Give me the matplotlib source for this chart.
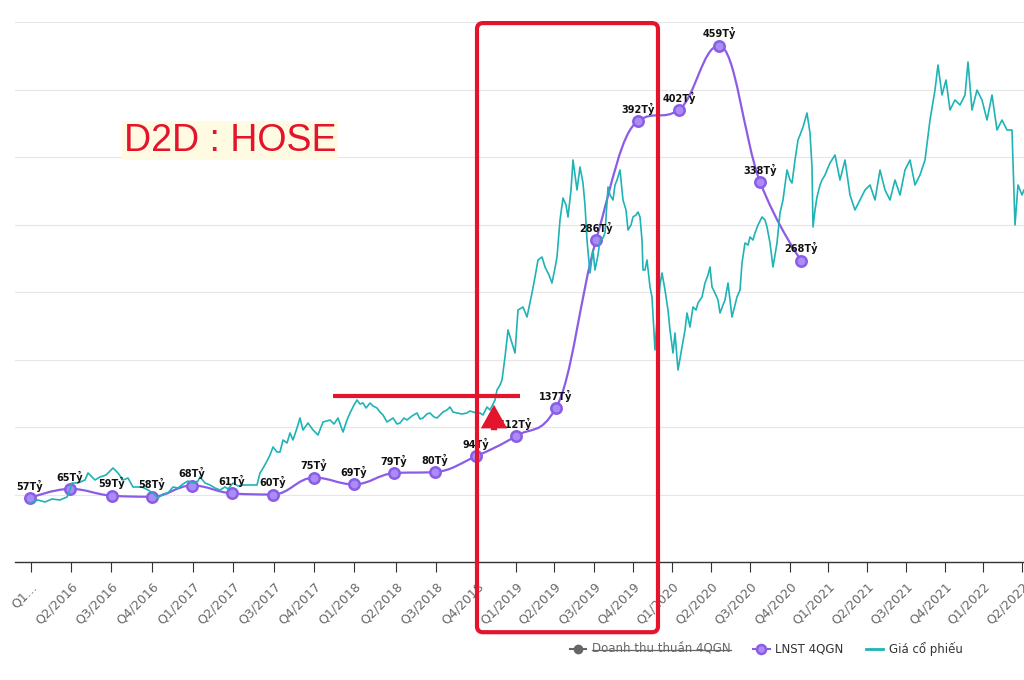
import matplotlib
matplotlib.use("Agg")
import matplotlib.pyplot as plt
from matplotlib.path import Path
from matplotlib.patches import PathPatch, FancyBboxPatch, FancyArrowPatch
from matplotlib.lines import Line2D
from matplotlib.transforms import IdentityTransform

# quarter ticks (trading-session index)
tick_pos = [0, 40, 80, 121, 162, 202, 243, 283, 323, 365, 405, 446, 485,
            523, 563, 602, 641, 680, 719, 759, 797, 836, 875, 914, 952, 991]
tick_labels = ["Q1…", "Q2/2016", "Q3/2016", "Q4/2016", "Q1/2017", "Q2/2017",
               "Q3/2017", "Q4/2017", "Q1/2018", "Q2/2018", "Q3/2018", "Q4/2018",
               "Q1/2019", "Q2/2019", "Q3/2019", "Q4/2019", "Q1/2020", "Q2/2020",
               "Q3/2020", "Q4/2020", "Q1/2021", "Q2/2021", "Q3/2021", "Q4/2021",
               "Q1/2022", "Q2/2022"]

# LNST 4QGN (ty dong)
profit_pos = [-1, 39, 80.5, 121, 161, 201, 242, 283, 323, 363, 404, 445, 485,
              525, 565, 607, 648, 688, 729, 770]
profit = [57, 65, 59, 58, 68, 61, 60, 75, 69, 79, 80, 94, 112, 137, 286, 392,
          402, 459, 338, 268]

# gia co phieu (nghin dong)
price_idx = [-1, 7, 14, 21, 29, 36, 39, 41, 47, 54, 57, 64, 69, 75, 82, 87, 92, 97,
             102, 111, 117, 122, 127, 132, 137, 142, 147, 152, 157, 162, 167, 169,
             174, 179, 184, 189, 194, 197, 202, 207, 212, 219, 226, 229, 231, 236,
             239, 242, 246, 249, 252, 256, 259, 262, 266, 269, 272, 277, 282, 287,
             292, 299, 303, 307, 312, 316, 319, 323, 326, 329, 332, 335, 339, 342,
             346, 349, 352, 356, 359, 362, 366, 369, 373, 376, 381, 386, 389, 392,
             396, 399, 403, 406, 409, 412, 416, 419, 422, 426, 431, 436, 439, 442,
             446, 449, 452, 456, 459, 462, 464, 466, 469, 471, 474, 477, 481, 484,
             487, 492, 496, 501, 504, 507, 511, 514, 518, 521, 524, 526, 529, 532,
             535, 537, 540, 542, 544, 546, 549, 552, 554, 556, 559, 562, 564, 567,
             569, 572, 574, 577, 579, 582, 584, 586, 589, 592, 595, 597, 600, 602,
             605, 607, 609, 611, 612, 614, 616, 619, 621, 624, 626, 629, 631, 634,
             637, 639, 642, 644, 647, 651, 654, 656, 659, 662, 665, 667, 671, 674,
             677, 679, 681, 684, 687, 689, 692, 694, 697, 699, 701, 704, 706, 709,
             711, 714, 717, 719, 722, 724, 727, 731, 734, 736, 739, 742, 744, 746,
             749, 752, 754, 756, 759, 761, 764, 767, 769, 772, 774, 776, 779, 781,
             782, 784, 786, 789, 791, 794, 796, 799, 804, 809, 814, 819, 824, 829,
             834, 839, 844, 849, 854, 859, 864, 869, 874, 879, 884, 889, 894, 899,
             904, 907, 911, 915, 919, 924, 929, 934, 937, 941, 946, 951, 956, 961,
             966, 971, 976, 981, 984, 987, 991, 993]
price = [11.8, 12.4, 12.0, 12.6, 12.4, 13.0, 14.4, 15.8, 15.8, 16.4, 17.8, 16.4, 17.0,
         17.4, 18.8, 17.8, 16.4, 16.8, 15.0, 15.0, 14.4, 13.8, 12.8, 13.6, 13.8, 15.0,
         14.8, 15.6, 16.2, 15.8, 16.2, 17.0, 15.8, 15.4, 14.8, 14.4, 15.0, 14.6, 15.8,
         15.2, 15.4, 15.4, 15.4, 17.8, 18.4, 20.2, 21.4, 23.0, 22.0, 22.0, 24.4, 23.8,
         25.8, 24.4, 26.8, 28.8, 26.4, 27.8, 26.4, 25.4, 28.0, 28.4, 27.6, 28.8, 26.0,
         28.4, 29.8, 31.4, 32.4, 31.6, 31.8, 30.8, 31.8, 31.2, 30.8, 30.0, 29.4, 28.0,
         28.4, 28.8, 27.6, 27.8, 28.8, 28.4, 29.2, 29.8, 28.6, 28.8, 29.6, 29.8, 29.0,
         28.8, 29.4, 30.0, 30.4, 31.0, 30.0, 29.8, 29.6, 29.8, 30.2, 30.0, 29.8, 29.8,
         29.4, 31.0, 30.4, 31.6, 32.4, 34.4, 35.4, 36.4, 41.0, 46.4, 43.8, 41.8, 50.4,
         51.0, 49.0, 53.8, 57.0, 60.4, 61.0, 59.0, 57.4, 55.8, 58.8, 61.0, 68.4, 72.8,
         71.4, 69.0, 74.4, 80.4, 77.4, 74.4, 79.0, 75.8, 71.4, 64.4, 57.8, 62.4, 58.4,
         61.4, 64.4, 64.8, 65.8, 75.0, 73.4, 72.4, 75.4, 76.4, 78.4, 72.4, 70.4, 66.4,
         67.4, 69.0, 69.4, 70.0, 69.0, 64.4, 58.4, 58.4, 60.4, 55.0, 53.0, 42.4, 48.4,
         55.4, 57.8, 54.4, 50.4, 46.4, 41.8, 45.8, 38.4, 43.0, 46.4, 49.8, 47.0, 51.0,
         50.4, 51.8, 53.0, 55.8, 57.4, 59.0, 55.0, 53.8, 52.4, 49.8, 51.4, 52.4, 55.8,
         52.4, 49.0, 51.4, 53.0, 54.4, 59.8, 63.8, 63.4, 65.0, 64.4, 65.8, 67.4, 69.0,
         68.4, 67.0, 63.8, 59.0, 61.4, 63.8, 69.8, 72.4, 75.4, 78.4, 76.4, 75.8, 80.4,
         84.4, 85.4, 87.0, 88.4, 89.8, 85.8, 79.0, 67.0, 70.4, 73.0, 75.4, 76.4, 77.4,
         78.4, 79.8, 81.4, 76.4, 80.4, 73.4, 70.4, 72.4, 74.4, 75.4, 72.4, 78.4, 74.4,
         72.4, 76.4, 73.4, 78.4, 80.4, 75.4, 77.4, 80.4, 88.4, 94.4, 99.4, 93.4, 96.4,
         90.4, 92.4, 91.4, 93.4, 100.0, 90.4, 94.4, 92.4, 88.4, 93.4, 86.4, 88.4, 86.4,
         86.4, 67.4, 75.4, 73.4, 74.4]

PURPLE = "#8b5ce6"
TEAL = "#1fb3b6"
RED = "#e3142b"


def spline_path(xs, ys, smoothing=1.5):
    # highcharts-like spline control points
    denom = smoothing + 1
    n = len(xs)
    lc = [(xs[i], ys[i]) for i in range(n)]
    rc = [(xs[i], ys[i]) for i in range(n)]
    for i in range(1, n - 1):
        px, py = xs[i], ys[i]
        lx, ly = xs[i - 1], ys[i - 1]
        nx, ny = xs[i + 1], ys[i + 1]
        lcx = (smoothing * px + lx) / denom
        lcy = (smoothing * py + ly) / denom
        rcx = (smoothing * px + nx) / denom
        rcy = (smoothing * py + ny) / denom
        corr = (rcy - lcy) * (rcx - px) / (rcx - lcx) + py - rcy
        lcy += corr
        rcy += corr
        if lcy > ly and lcy > py:
            lcy = max(ly, py)
            rcy = 2 * py - lcy
        elif lcy < ly and lcy < py:
            lcy = min(ly, py)
            rcy = 2 * py - lcy
        if rcy > ny and rcy > py:
            rcy = max(ny, py)
            lcy = 2 * py - rcy
        elif rcy < ny and rcy < py:
            rcy = min(ny, py)
            lcy = 2 * py - rcy
        lc[i] = (lcx, lcy)
        rc[i] = (rcx, rcy)
    verts = [(xs[0], ys[0])]
    codes = [Path.MOVETO]
    for i in range(1, n):
        verts += [rc[i - 1], lc[i], (xs[i], ys[i])]
        codes += [Path.CURVE4] * 3
    return Path(verts, codes)


fig = plt.figure(figsize=(10.24, 6.8), dpi=100)
ax = fig.add_axes([15 / 1024, 118 / 680, 1 - 15 / 1024, 540 / 680])
ax2 = ax.twinx()

ax.set_xlim(-16, 993)
ax.set_ylim(0, 480)
ax2.set_ylim(0, 108)

ax.set_yticks(range(0, 481, 60))
ax.yaxis.grid(True, color="#e6e6e6", lw=0.8)
ax.set_axisbelow(True)
ax.tick_params(axis="y", left=False, labelleft=False)
ax2.tick_params(axis="y", right=False, labelright=False)
for sp in ["top", "left", "right"]:
    ax.spines[sp].set_visible(False)
for sp in ax2.spines.values():
    sp.set_visible(False)
ax.spines["bottom"].set_color("#333333")
ax.spines["bottom"].set_linewidth(1)

ax.set_xticks(tick_pos)
ax.set_xticklabels(tick_labels, rotation=45, ha="right", rotation_mode="anchor",
                   fontsize=9, color="#666666")
ax.tick_params(axis="x", length=7, color="#333333", pad=6)

# LNST line
ax.add_patch(PathPatch(spline_path(profit_pos, profit), fc="none", ec=PURPLE, lw=1.6))
ax.plot(profit_pos, profit, "o", ms=7.5, mfc="#a98cf6", mec=PURPLE, mew=1.8)

# stock price
ax2.plot(price_idx, price, color=TEAL, lw=1.2, zorder=3)

# data labels on top
for x, v in zip(profit_pos, profit):
    ax2.annotate(f"{v}Tỷ", (x, v), xycoords=ax.transData, xytext=(0, 4.5),
                 textcoords="offset points", ha="center", va="bottom",
                 fontsize=7, fontweight="bold", color="#111111", zorder=5)

# red annotations
ax2.plot([302, 489], [33.2, 33.2], color=RED, lw=3, solid_capstyle="butt", zorder=6)
ax2.add_patch(FancyArrowPatch((463, 25.8), (463, 32.0), mutation_scale=1,
                              arrowstyle="simple,head_length=17,head_width=19,tail_width=4.5",
                              color=RED, lw=0, zorder=7))

ax2.text(0.108, 0.78, "D2D : HOSE", transform=ax.transAxes, fontsize=27,
         family="Liberation Sans", color=RED, va="center", ha="left", zorder=7,
         bbox=dict(facecolor="#fffbe2", edgecolor="none", pad=1))

fig.canvas.draw()
x0 = ax.transData.transform((446, 0))[0]
x1 = ax.transData.transform((627, 0))[0]
y0 = ax.transAxes.transform((0, -0.13))[1]
y1 = ax.transAxes.transform((0, 0.998))[1]
box = FancyBboxPatch((x0, y0), x1 - x0, y1 - y0, boxstyle="round,pad=0,rounding_size=6",
                     fill=False, ec=RED, lw=3, transform=IdentityTransform())
fig.add_artist(box)

# legend
handles = [
    Line2D([], [], color="#666666", marker="o", ms=6, lw=1.5),
    Line2D([], [], color=PURPLE, marker="o", ms=6.5, mfc="#a98cf6", mec=PURPLE, mew=1.8, lw=1.5),
    Line2D([], [], color=TEAL, lw=2),
]
leg = fig.legend(handles, ["Doanh thu thuần 4QGN", "LNST 4QGN", "Giá cổ phiếu"],
                 loc="center", bbox_to_anchor=(766 / 1024, 31 / 680), ncol=3,
                 frameon=False, fontsize=8.5, handlelength=1.4, handletextpad=0.5,
                 columnspacing=1.9)
texts = leg.get_texts()
texts[0].set_color("#666666")
texts[1].set_color("#333333")
texts[2].set_color("#333333")
fig.canvas.draw()
bb = texts[0].get_window_extent()
ym = (bb.y0 + bb.y1) / 2
fig.add_artist(Line2D([bb.x0, bb.x1], [ym, ym], color="#666666", lw=0.9,
                      transform=IdentityTransform()))

fig.savefig("out.png", dpi=100)
